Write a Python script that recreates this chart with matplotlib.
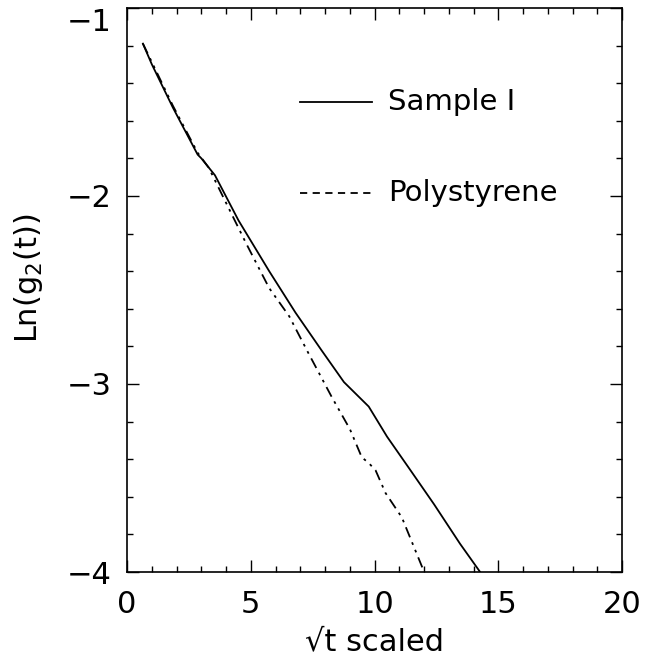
import numpy as np
import matplotlib
matplotlib.use("Agg")
import matplotlib.pyplot as plt
from matplotlib.ticker import MultipleLocator

plt.rcParams['font.family'] = ['DejaVu Sans']
plt.rcParams['mathtext.default'] = 'regular'

# datos
x_sample = [0.64, 1.0, 1.85, 2.85, 3.0, 3.55, 4.5, 5.74, 6.8, 7.85, 8.76, 9.76, 10.5, 11.4, 12.4, 13.45, 14.26]
y_sample = [-1.19, -1.30, -1.53, -1.78, -1.80, -1.89, -2.13, -2.40, -2.62, -2.82, -2.99, -3.12, -3.28, -3.45, -3.64, -3.85, -4.0]

x_poly = [0.64, 1.85, 2.85, 3.3, 3.86, 4.8, 5.74, 6.55, 7.3, 8.27, 9.0, 9.48, 9.76, 10.04, 10.44, 11.1, 12.0]
y_poly = [-1.19, -1.52, -1.77, -1.85, -2.0, -2.25, -2.49, -2.64, -2.83, -3.07, -3.24, -3.39, -3.42, -3.46, -3.58, -3.71, -4.0]

labels = ["Sample I", "Polystyrene"]
xticks = [0, 5, 10, 15, 20]
yticks = [-4, -3, -2, -1]

fig = plt.figure(figsize=(6.55, 6.6), dpi=100)
ax = fig.add_axes([0.194, 0.1333, 0.756, 0.8547])

ax.plot(x_sample, y_sample, color="black", lw=1.3)
ax.plot(x_poly, y_poly, color="black", lw=1.3, linestyle=(0, (6, 3, 1.5, 3, 1.5, 3)))

# leyenda dibujada a mano
ax.plot([0.35, 0.495], [0.833, 0.833], color="black", lw=1.3, transform=ax.transAxes)
ax.text(0.527, 0.833, labels[0], transform=ax.transAxes, fontsize=21, va="center", ha="left")
ax.plot([0.35, 0.495], [0.672, 0.672], color="black", lw=1.3, linestyle=(0, (4, 3)), transform=ax.transAxes)
ax.text(0.527, 0.672, labels[1], transform=ax.transAxes, fontsize=21, va="center", ha="left")

ax.set_xlim(0, 20)
ax.set_ylim(-4, -1)
ax.set_xticks(xticks)
ax.set_yticks(yticks)
ax.xaxis.set_minor_locator(MultipleLocator(1))
ax.yaxis.set_minor_locator(MultipleLocator(0.2))
ax.tick_params(which="both", direction="in", top=True, right=True, labelsize=22, width=1.0)
ax.tick_params(which="major", length=8.6)
ax.tick_params(axis="x", which="major", pad=13)
ax.tick_params(axis="y", which="major", pad=11)
ax.tick_params(which="minor", length=4.5)
for s in ax.spines.values():
    s.set_linewidth(1.2)

# la etiqueta -1 queda por debajo del borde superior
ax.get_yticklabels()[-1].set_verticalalignment("top")

ax.set_xlabel("√t scaled", fontsize=22, labelpad=6)
ax.set_ylabel("Ln(g$_2$(t))", fontsize=22)
ax.yaxis.set_label_coords(-0.165, 0.52)

fig.savefig("out.png", dpi=100)
